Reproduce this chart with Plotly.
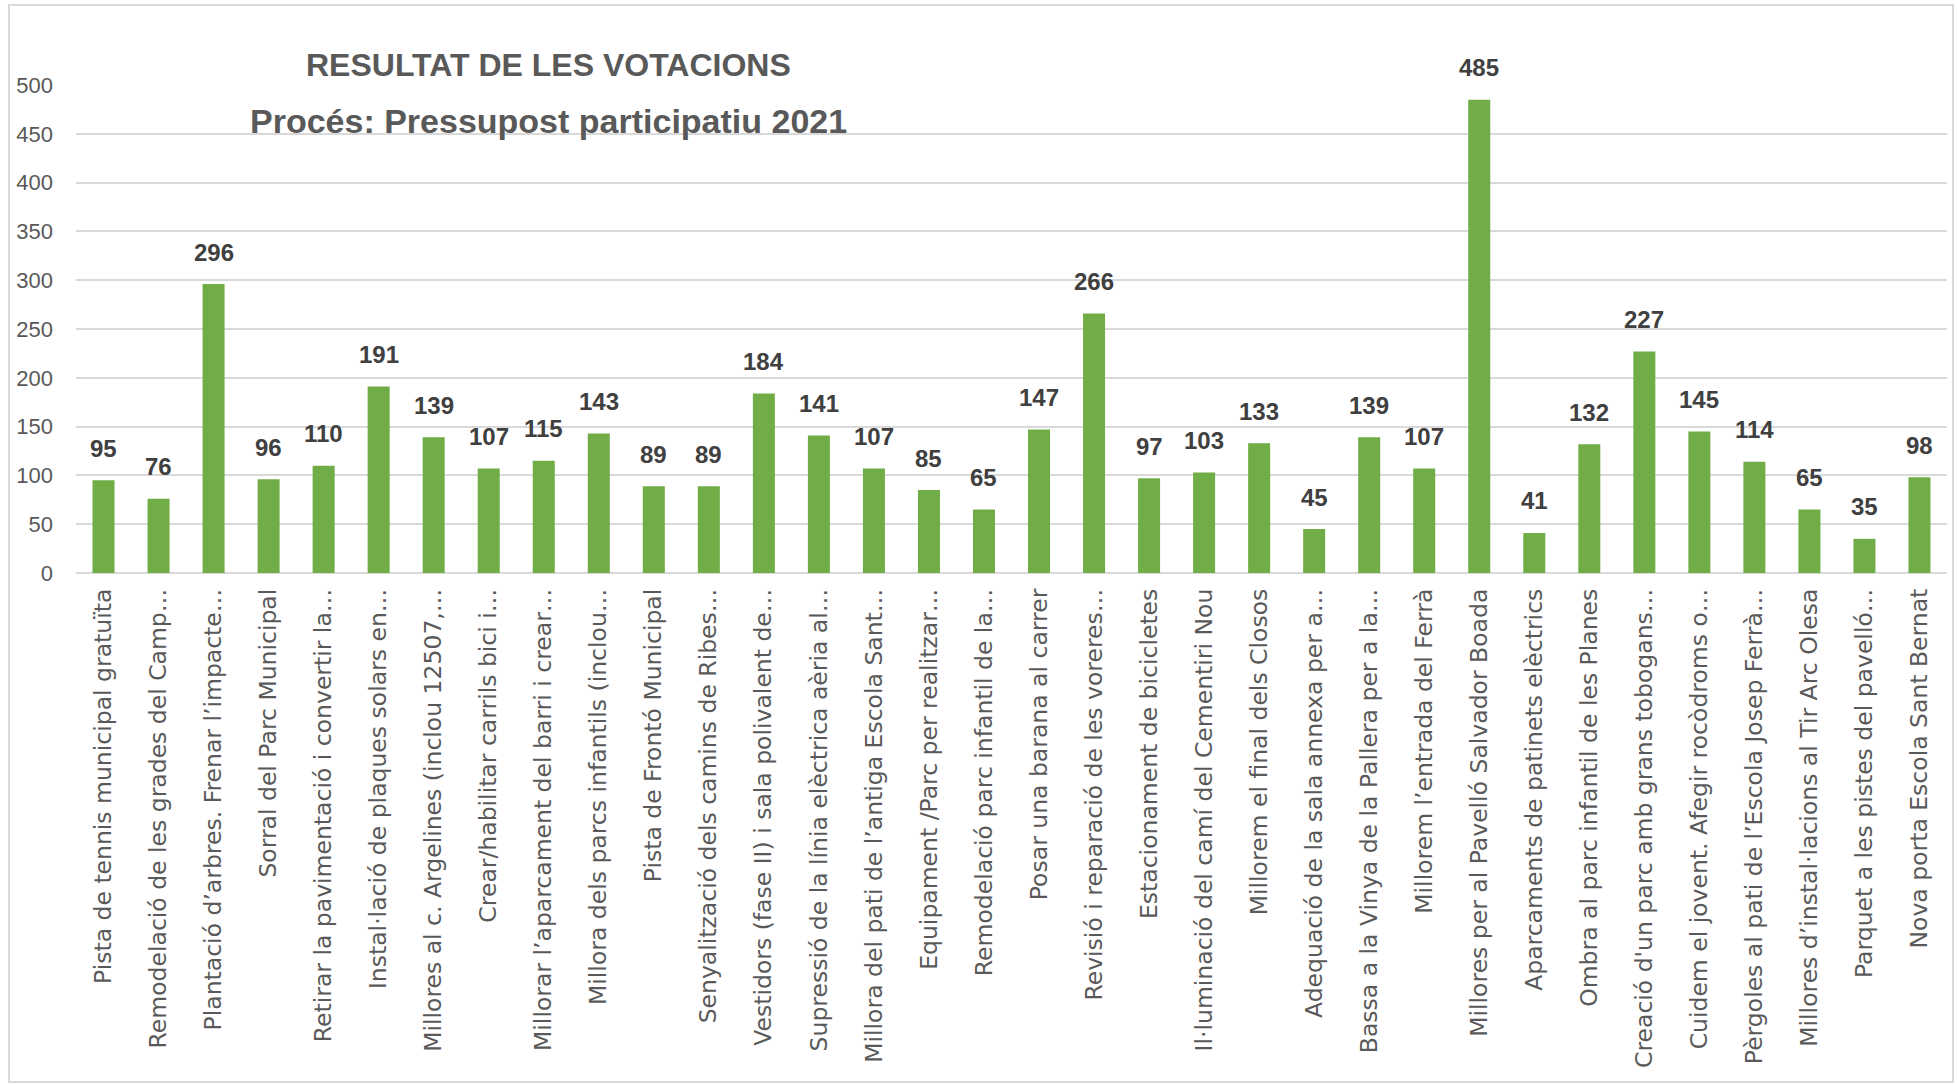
import plotly.graph_objects as go

categories = [
    "Pista de tennis municipal gratuïta",
    "Remodelació de les grades del Camp…",
    "Plantació d’arbres. Frenar l’impacte…",
    "Sorral del Parc Municipal",
    "Retirar la pavimentació i convertir la…",
    "Instal·lació de plaques solars en…",
    "Millores al c. Argelines (inclou 12507,…",
    "Crear/habilitar carrils bici i…",
    "Millorar l’aparcament del barri i crear…",
    "Millora dels parcs infantils (inclou…",
    "Pista de Frontó Municipal",
    "Senyalització dels camins de Ribes…",
    "Vestidors (fase II) i sala polivalent de…",
    "Supressió de la línia elèctrica aèria al…",
    "Millora del pati de l’antiga Escola Sant…",
    "Equipament /Parc per realitzar…",
    "Remodelació parc infantil de la…",
    "Posar una barana al carrer",
    "Revisió i reparació de les voreres…",
    "Estacionament de bicicletes",
    "Il·luminació del camí del Cementiri Nou",
    "Millorem el final dels Closos",
    "Adequació de la sala annexa per a…",
    "Bassa a la Vinya de la Pallera per a la…",
    "Millorem l’entrada del Ferrà",
    "Millores per al Pavelló Salvador Boada",
    "Aparcaments de patinets elèctrics",
    "Ombra al parc infantil de les Planes",
    "Creació d'un parc amb grans tobogans…",
    "Cuidem el jovent. Afegir rocòdroms o…",
    "Pèrgoles al pati de l’Escola Josep Ferrà…",
    "Millores d’instal·lacions al Tir Arc Olesa",
    "Parquet a les pistes del pavelló…",
    "Nova porta Escola Sant Bernat",
]

votes = [95, 76, 296, 96, 110, 191, 139, 107, 115, 143, 89, 89, 184, 141, 107, 85,
         65, 147, 266, 97, 103, 133, 45, 139, 107, 485, 41, 132, 227, 145, 114, 65, 35, 98]

y_ticks = [0, 50, 100, 150, 200, 250, 300, 350, 400, 450, 500]

title_line1 = "RESULTAT DE LES VOTACIONS"
title_line2 = "Procés: Pressupost participatiu 2021"

W, H = 1957, 1084
L, R, T, B = 76, 10, 85, 511

fig = go.Figure()
fig.add_trace(go.Bar(
    x=categories, y=votes,
    marker=dict(color="#70AD47", line=dict(width=0)),
    hoverinfo="x+y",
))

for c, v in zip(categories, votes):
    fig.add_annotation(
        x=c, y=v, xref="x", yref="y", text=str(v), showarrow=False,
        yanchor="middle", yshift=32,
        font=dict(family="Liberation Sans, Arial, sans-serif", size=24, color="#404040", weight="bold"),
    )

pw = W - L - R
ph = H - T - B

def px_to_paper_x(px):
    return (px - L) / pw

def px_to_paper_y(py):
    return (H - B - py) / ph

fig.add_annotation(
    x=px_to_paper_x(548), y=px_to_paper_y(65), xref="paper", yref="paper",
    text="<b>" + title_line1 + "</b>", showarrow=False, xanchor="center", yanchor="middle",
    font=dict(family="Liberation Sans, Arial, sans-serif", size=32, color="#595959"),
)
fig.add_annotation(
    x=px_to_paper_x(548), y=px_to_paper_y(121), xref="paper", yref="paper",
    text="<b>" + title_line2 + "</b>", showarrow=False, xanchor="center", yanchor="middle",
    font=dict(family="Liberation Sans, Arial, sans-serif", size=34, color="#595959"),
)

# outer chart border
fig.add_shape(
    type="rect", xref="paper", yref="paper",
    x0=px_to_paper_x(9), x1=px_to_paper_x(1953),
    y0=px_to_paper_y(1082), y1=px_to_paper_y(5),
    line=dict(color="#D9D9D9", width=2), fillcolor="rgba(0,0,0,0)", layer="below",
)

fig.update_layout(
    width=W, height=H,
    margin=dict(l=L, r=R, t=T, b=B, pad=0),
    plot_bgcolor="white", paper_bgcolor="white",
    bargap=0.6,
    showlegend=False,
    xaxis=dict(
        tickangle=-90, showgrid=False, zeroline=False, showline=False,
        tickfont=dict(family="DejaVu Sans, sans-serif", size=23.5, color="#595959"),
        ticks="", ticklabelstandoff=10, automargin=False,
    ),
    yaxis=dict(
        range=[0, 500], tickvals=y_ticks, showgrid=True, gridcolor="#D9D9D9", gridwidth=2,
        zeroline=True, zerolinecolor="#D9D9D9", zerolinewidth=2, showline=False,
        tickfont=dict(family="Liberation Sans, Arial, sans-serif", size=22, color="#595959"),
        ticks="", ticklabelstandoff=22, automargin=False,
    ),
)

fig.write_html("out.html", config={"displayModeBar": False},
               post_script="document.body.style.margin='0px';")
